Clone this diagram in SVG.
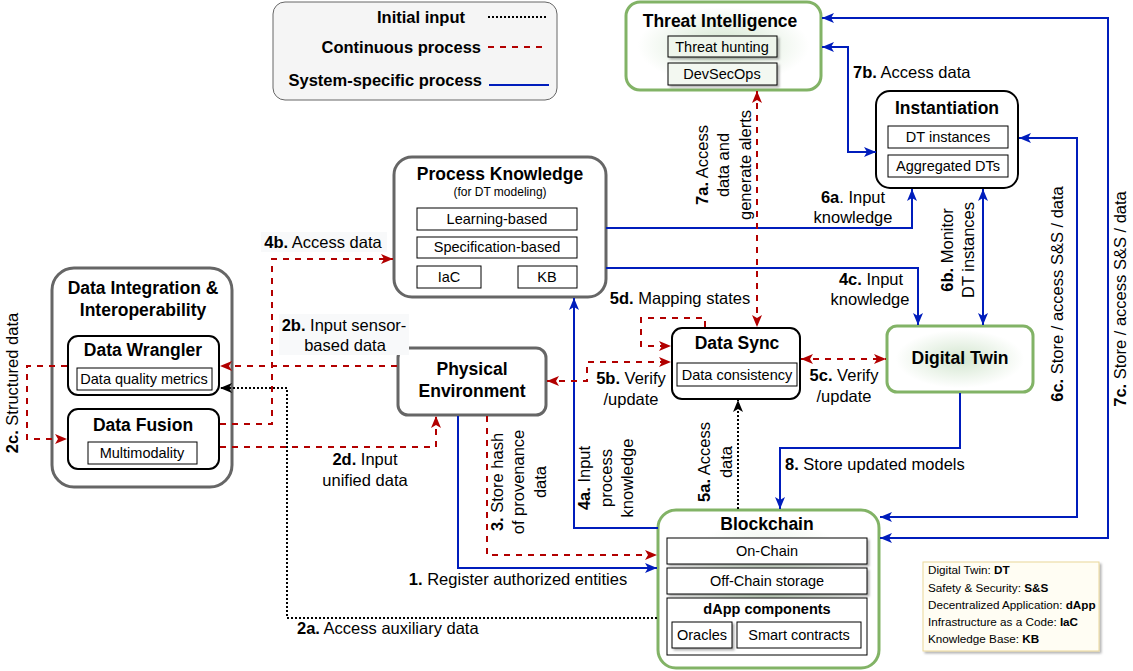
<svg xmlns="http://www.w3.org/2000/svg" width="1133" height="671" viewBox="0 0 1133 671">
<defs>
<style>
text{font-family:"Liberation Sans",Arial,Helvetica,sans-serif;fill:#000}
.t{font-size:17.5px;font-weight:bold;text-anchor:middle}
.s{font-size:14.5px;text-anchor:middle}
.l{font-size:16.5px}
.m{text-anchor:middle}
.b{font-weight:bold}
.lg{font-size:11.7px}
.gray{fill:#fff;stroke:#666;stroke-width:3}
.green{fill:url(#gg);stroke:#82b366;stroke-width:3}
.blk{fill:#fff;stroke:#000;stroke-width:2}
.sub{fill:#fff;stroke:#000;stroke-width:1}
.subt{fill:none;stroke:#000;stroke-width:1}
.blue{fill:none;stroke:#001DBC;stroke-width:2}
.red{fill:none;stroke:#B20000;stroke-width:2;stroke-dasharray:6 6}
.dot{fill:none;stroke:#000;stroke-width:2;stroke-dasharray:2 2}
.lbg{fill:#f8f9fa}
</style>
<radialGradient id="gg" cx="50%" cy="50%" r="55%">
<stop offset="0" stop-color="#d3e6cf"/>
<stop offset="0.8" stop-color="#ffffff"/>
</radialGradient>
<filter id="sh" x="-10%" y="-10%" width="130%" height="140%">
<feDropShadow dx="2" dy="2" stdDeviation="1" flood-color="#000" flood-opacity="0.3"/>
</filter>
<marker id="ab" viewBox="0 0 12 10" refX="12" refY="5" markerWidth="12" markerHeight="10" markerUnits="userSpaceOnUse" orient="auto-start-reverse"><path d="M0,0 L12,5 L0,10 L3,5 z" fill="#001DBC"/></marker>
<marker id="ar" viewBox="0 0 12 10" refX="12" refY="5" markerWidth="12" markerHeight="10" markerUnits="userSpaceOnUse" orient="auto-start-reverse"><path d="M0,0 L12,5 L0,10 L3,5 z" fill="#B20000"/></marker>
<marker id="ak" viewBox="0 0 12 10" refX="12" refY="5" markerWidth="12" markerHeight="10" markerUnits="userSpaceOnUse" orient="auto-start-reverse"><path d="M0,0 L12,5 L0,10 L3,5 z" fill="#000"/></marker>
</defs>
<rect width="1133" height="671" fill="#fff"/>

<g id="legend">
<rect x="273" y="2" width="284" height="98" rx="12" fill="#f5f5f5" stroke="#666" stroke-width="1"/>
<text class="l b" x="465" y="23" text-anchor="end">Initial input</text>
<text class="l b" x="481" y="53" text-anchor="end">Continuous process</text>
<text class="l b" x="482" y="86" text-anchor="end">System-specific process</text>
<path class="dot" d="M488 17 H547"/>
<path class="red" d="M488 47 H543"/>
<path class="blue" d="M489 85 H549"/>
</g>

<g id="threat-intelligence">
<rect class="green" x="626" y="2" width="195" height="88" rx="14"/>
<text class="t" x="720" y="27">Threat Intelligence</text>
<rect class="subt" x="668" y="36" width="109" height="21" filter="url(#sh)" style="fill:#eef5eb"/>
<text class="s" x="722" y="52">Threat hunting</text>
<rect class="subt" x="668" y="63" width="109" height="22" filter="url(#sh)" style="fill:#f3f8f1"/>
<text class="s" x="722" y="79">DevSecOps</text>
</g>

<g id="instantiation">
<rect class="blk" x="876" y="91" width="142" height="97" rx="14"/>
<text class="t" x="947" y="114">Instantiation</text>
<rect class="sub" x="888" y="126" width="120" height="22"/>
<text class="s" x="948" y="142">DT instances</text>
<rect class="sub" x="888" y="155" width="120" height="22"/>
<text class="s" x="948" y="171">Aggregated DTs</text>
</g>

<g id="process-knowledge">
<rect class="gray" x="394" y="157" width="212" height="140" rx="18"/>
<text class="t" x="500" y="180">Process Knowledge</text>
<text x="500" y="196" text-anchor="middle" font-size="12">(for DT modeling)</text>
<rect class="sub" x="417" y="208" width="160" height="22"/>
<text class="s" x="497" y="224">Learning-based</text>
<rect class="sub" x="417" y="237" width="160" height="21"/>
<text class="s" x="497" y="252">Specification-based</text>
<rect class="sub" x="417" y="266" width="64" height="22"/>
<text class="s" x="449" y="282">IaC</text>
<rect class="sub" x="518" y="266" width="59" height="22"/>
<text class="s" x="547" y="282">KB</text>
</g>

<g id="data-integration">
<rect class="gray" x="52" y="268" width="180" height="219" rx="22"/>
<text class="t" x="143" y="294">Data Integration &amp;</text>
<text class="t" x="143" y="316">Interoperability</text>
</g>

<g id="data-wrangler">
<rect class="blk" x="68" y="336" width="151" height="59" rx="10"/>
<text class="t" x="143" y="356">Data Wrangler</text>
<rect class="sub" x="77" y="368" width="135" height="22"/>
<text class="s" x="144" y="384">Data quality metrics</text>
</g>

<g id="data-fusion">
<rect class="blk" x="68" y="409" width="151" height="60" rx="10"/>
<text class="t" x="143" y="431">Data Fusion</text>
<rect class="sub" x="88" y="442" width="109" height="22"/>
<text class="s" x="142" y="458">Multimodality</text>
</g>

<g id="physical-environment">
<rect class="gray" x="398" y="348" width="148" height="67" rx="10"/>
<text class="t" x="472" y="375">Physical</text>
<text class="t" x="472" y="397">Environment</text>
</g>

<g id="data-sync">
<rect class="blk" x="672" y="328" width="128" height="71" rx="10"/>
<text class="t" x="737" y="349">Data Sync</text>
<rect class="sub" x="677" y="363" width="120" height="23"/>
<text class="s" x="737" y="380">Data consistency</text>
</g>

<g id="digital-twin">
<rect class="green" x="887" y="326" width="146" height="66" rx="10"/>
<text class="t" x="960" y="364">Digital Twin</text>
</g>

<g id="blockchain">
<rect class="green" x="658" y="510" width="221" height="158" rx="18"/>
<text class="t" x="767" y="530">Blockchain</text>
<rect class="sub" x="667" y="538" width="200" height="26" filter="url(#sh)"/>
<text class="s" x="767" y="556">On-Chain</text>
<rect class="sub" x="667" y="568" width="200" height="26" filter="url(#sh)"/>
<text class="s" x="767" y="586">Off-Chain storage</text>
<rect class="sub" x="667" y="598" width="200" height="57"/>
<text class="s b" x="767" y="614">dApp components</text>
<rect class="sub" x="672" y="622" width="60" height="26" filter="url(#sh)"/>
<text class="s" x="702" y="640">Oracles</text>
<rect class="sub" x="737" y="622" width="124" height="26"/>
<text class="s" x="799" y="640">Smart contracts</text>
</g>

<g id="abbreviations">
<rect x="923" y="562" width="176" height="89" fill="#fffdf3" stroke="#ead79a" stroke-width="1" filter="url(#sh)"/>
<text class="lg" x="928" y="574">Digital Twin: <tspan class="b">DT</tspan></text>
<text class="lg" x="928" y="592">Safety &amp; Security: <tspan class="b">S&amp;S</tspan></text>
<text class="lg" x="928" y="609">Decentralized Application: <tspan class="b">dApp</tspan></text>
<text class="lg" x="928" y="626">Infrastructure as a Code: <tspan class="b">IaC</tspan></text>
<text class="lg" x="928" y="643">Knowledge Base: <tspan class="b">KB</tspan></text>
</g>

<g id="connectors">
<path class="blue" d="M822 18 H1108 V538 H880" marker-start="url(#ab)" marker-end="url(#ab)"/>
<path class="blue" d="M1019 138 H1077 V517 H880" marker-start="url(#ab)" marker-end="url(#ab)"/>
<path class="blue" d="M822 47 H848 V152 H876" marker-start="url(#ab)" marker-end="url(#ab)"/>
<path class="blue" d="M606 228 H912 V189" marker-end="url(#ab)"/>
<path class="blue" d="M606 268 H918 V325" marker-end="url(#ab)"/>
<path class="blue" d="M983 189 V325" marker-start="url(#ab)" marker-end="url(#ab)"/>
<path class="blue" d="M960 393 V448 H780 V509" marker-end="url(#ab)"/>
<path class="blue" d="M658 528 H574 V298" marker-end="url(#ab)"/>
<path class="blue" d="M458 416 V568 H657" marker-end="url(#ab)"/>
<path class="red" d="M487 416 V555 H657" marker-end="url(#ar)"/>
<path class="dot" d="M738 509 V400" marker-end="url(#ak)"/>
<path class="dot" d="M657 618 H287 V388 H220" marker-end="url(#ak)"/>
<path class="red" d="M397 366 H220" marker-end="url(#ar)"/>
<path class="red" d="M67 366 H27 V439 H67" marker-end="url(#ar)"/>
<path class="red" d="M220 424 H272 V259 H393" marker-end="url(#ar)"/>
<path class="red" d="M220 447 H436 V416" marker-end="url(#ar)"/>
<path class="red" d="M547 381 H587 V362 H671" marker-start="url(#ar)" marker-end="url(#ar)"/>
<path class="red" d="M801 359 H886" marker-start="url(#ar)" marker-end="url(#ar)"/>
<path class="red" d="M705 327 V318 H641 V346 H671" marker-end="url(#ar)"/>
<path class="red" d="M757 91 V327" marker-start="url(#ar)" marker-end="url(#ar)"/>
</g>

<g id="connector-labels">
<text class="l" x="853" y="78"><tspan class="b">7b.</tspan> Access data</text>
<text class="l m" x="853" y="203"><tspan class="b">6a</tspan>. Input</text>
<text class="l m" x="853" y="223">knowledge</text>
<text class="l m" x="871" y="285"><tspan class="b">4c.</tspan> Input</text>
<text class="l m" x="870" y="305">knowledge</text>
<text class="l m" x="680" y="304"><tspan class="b">5d.</tspan> Mapping states</text>
<text class="l m" x="631" y="384"><tspan class="b">5b.</tspan> Verify</text>
<text class="l m" x="631" y="405">/update</text>
<text class="l m" x="844" y="381"><tspan class="b">5c.</tspan> Verify</text>
<text class="l m" x="844" y="402">/update</text>
<text class="l" x="785" y="470"><tspan class="b">8.</tspan> Store updated models</text>
<text class="l m" x="518" y="585"><tspan class="b">1.</tspan> Register authorized entities</text>
<text class="l" x="297" y="634"><tspan class="b">2a.</tspan> Access auxiliary data</text>
<text class="l m" x="365" y="465"><tspan class="b">2d.</tspan> Input</text>
<text class="l m" x="365" y="486">unified data</text>
<rect class="lbg" x="279" y="314" width="130" height="41"/>
<text class="l m" x="344" y="331"><tspan class="b">2b.</tspan> Input sensor-</text>
<text class="l m" x="345" y="351">based data</text>
<rect class="lbg" x="261" y="232" width="126" height="20"/>
<text class="l m" x="323" y="248"><tspan class="b">4b.</tspan> Access data</text>
<g transform="translate(723,165) rotate(-90)">
<text class="l m" x="0" y="-15"><tspan class="b">7a.</tspan> Access</text>
<text class="l m" x="0" y="6">data and</text>
<text class="l m" x="0" y="28">generate alerts</text>
</g>
<g transform="translate(715,462) rotate(-90)">
<text class="l m" x="0" y="-5"><tspan class="b">5a.</tspan> Access</text>
<text class="l m" x="0" y="17">data</text>
</g>
<g transform="translate(606,478) rotate(-90)">
<text class="l m" x="0" y="-16"><tspan class="b">4a.</tspan> Input</text>
<text class="l m" x="0" y="6">process</text>
<text class="l m" x="0" y="27">knowledge</text>
</g>
<g transform="translate(518,482) rotate(-90)">
<text class="l m" x="0" y="-15"><tspan class="b">3.</tspan> Store hash</text>
<text class="l m" x="0" y="6">of provenance</text>
<text class="l m" x="0" y="28">data</text>
</g>
<g transform="translate(957,250) rotate(-90)">
<text class="l m" x="0" y="-4"><tspan class="b">6b.</tspan> Monitor</text>
<text class="l m" x="0" y="17">DT instances</text>
</g>
<text class="l m" transform="translate(1057,294) rotate(-90)" x="0" y="6"><tspan class="b">6c.</tspan> Store / access S&amp;S / data</text>
<text class="l m" transform="translate(1120,299) rotate(-90)" x="0" y="6"><tspan class="b">7c.</tspan> Store / access S&amp;S / data</text>
<text class="l m" transform="translate(12,383) rotate(-90)" x="0" y="6"><tspan class="b">2c.</tspan> Structured data</text>
</g>
</svg>
